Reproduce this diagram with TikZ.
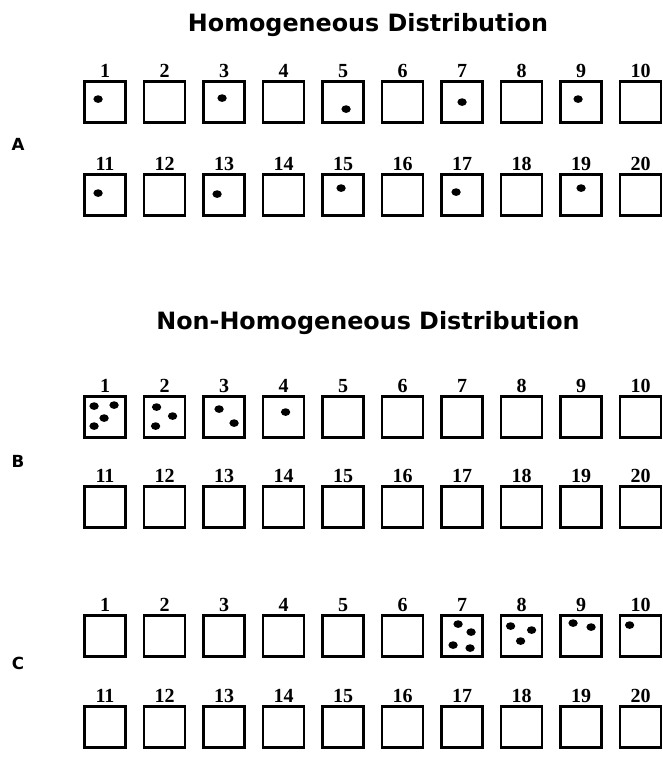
\documentclass[tikz,border=0pt]{standalone}
\usepackage{fontspec}
\setmainfont{Liberation Serif}
\newfontfamily\headfont{DejaVu Sans}
\usetikzlibrary{positioning}
\tikzset{
  cell/.style={draw,line width=1.7pt,minimum size=24.6pt,inner sep=0pt},
  cellnum/.style={font=\bfseries\fontsize{12}{12}\selectfont,inner sep=0pt,anchor=south},
  heading/.style={font=\headfont\bfseries\fontsize{14.3}{17}\selectfont},
  grouplabel/.style={font=\headfont\bfseries\fontsize{10}{12}\selectfont},
  dot/.style={fill=black}}

\begin{document}
\begin{tikzpicture}[x=0.6pt,y=-0.6pt]
\path[use as bounding box] (0,0) rectangle (663,780);

\node[heading] (homtitle) at (368,25) {Homogeneous Distribution};
\node[heading] (nonhomtitle) at (368,323) {Non-Homogeneous Distribution};
\node[grouplabel] (labA) at (18,144) {A};
\node[grouplabel] (labB) at (18,461) {B};
\node[grouplabel] (labC) at (18,663) {C};

\foreach \g/\ya/\yb in {a/102/195,b/417/507,c/636/727}{
  \foreach \i in {1,...,10}{
    \node[cell] (\g\i) at ({105+59.5*(\i-1)},\ya) {};
    \node[cellnum] (\g\i-num) at ([yshift=1.2pt]\g\i.north) {\i};}
  \foreach \i in {11,...,20}{
    \node[cell] (\g\i) at ({105+59.5*(\i-11)},\yb) {};
    \node[cellnum] (\g\i-num) at ([yshift=1.2pt]\g\i.north) {\i};}
}

\fill[dot] (a1.north west) ++(15,19) ellipse [x radius=2.8pt,y radius=2.3pt];
\fill[dot] (a3.north west) ++(20,18) ellipse [x radius=2.8pt,y radius=2.3pt];
\fill[dot] (a5.north west) ++(25,29) ellipse [x radius=2.8pt,y radius=2.3pt];
\fill[dot] (a7.north west) ++(22,22) ellipse [x radius=2.8pt,y radius=2.3pt];
\fill[dot] (a9.north west) ++(19,19) ellipse [x radius=2.8pt,y radius=2.3pt];
\fill[dot] (a11.north west) ++(15,20) ellipse [x radius=2.8pt,y radius=2.3pt];
\fill[dot] (a13.north west) ++(15,21) ellipse [x radius=2.8pt,y radius=2.3pt];
\fill[dot] (a15.north west) ++(20,15) ellipse [x radius=2.8pt,y radius=2.3pt];
\fill[dot] (a17.north west) ++(16,19) ellipse [x radius=2.8pt,y radius=2.3pt];
\fill[dot] (a19.north west) ++(22,15) ellipse [x radius=2.8pt,y radius=2.3pt];

\fill[dot] (b1.north west) ++(11,11) ellipse [x radius=2.8pt,y radius=2.3pt];
\fill[dot] (b1.north west) ++(31,10) ellipse [x radius=2.8pt,y radius=2.3pt];
\fill[dot] (b1.north west) ++(21,23) ellipse [x radius=2.8pt,y radius=2.3pt];
\fill[dot] (b1.north west) ++(11,31) ellipse [x radius=2.8pt,y radius=2.3pt];
\fill[dot] (b2.north west) ++(14,12) ellipse [x radius=2.8pt,y radius=2.3pt];
\fill[dot] (b2.north west) ++(30,21) ellipse [x radius=2.8pt,y radius=2.3pt];
\fill[dot] (b2.north west) ++(13,31) ellipse [x radius=2.8pt,y radius=2.3pt];
\fill[dot] (b3.north west) ++(17,14) ellipse [x radius=2.8pt,y radius=2.3pt];
\fill[dot] (b3.north west) ++(32,28) ellipse [x radius=2.8pt,y radius=2.3pt];
\fill[dot] (b4.north west) ++(24,17) ellipse [x radius=2.8pt,y radius=2.3pt];

\fill[dot] (c7.north west) ++(18,10) ellipse [x radius=2.8pt,y radius=2.3pt];
\fill[dot] (c7.north west) ++(31,18) ellipse [x radius=2.8pt,y radius=2.3pt];
\fill[dot] (c7.north west) ++(13,31) ellipse [x radius=2.8pt,y radius=2.3pt];
\fill[dot] (c7.north west) ++(30,34) ellipse [x radius=2.8pt,y radius=2.3pt];
\fill[dot] (c8.north west) ++(11,12) ellipse [x radius=2.8pt,y radius=2.3pt];
\fill[dot] (c8.north west) ++(32,16) ellipse [x radius=2.8pt,y radius=2.3pt];
\fill[dot] (c8.north west) ++(21,27) ellipse [x radius=2.8pt,y radius=2.3pt];
\fill[dot] (c9.north west) ++(14,9) ellipse [x radius=2.8pt,y radius=2.3pt];
\fill[dot] (c9.north west) ++(32,13) ellipse [x radius=2.8pt,y radius=2.3pt];
\fill[dot] (c10.north west) ++(11,11) ellipse [x radius=2.8pt,y radius=2.3pt];
\end{tikzpicture}
\end{document}
